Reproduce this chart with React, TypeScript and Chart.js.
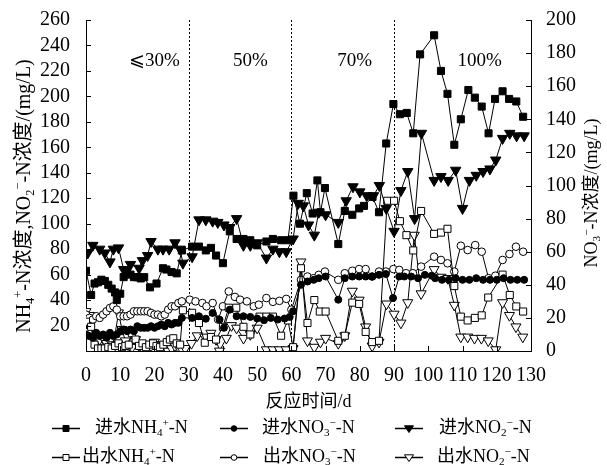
import React, { useEffect, useRef } from 'react';
import { Chart, registerables } from 'chart.js';

Chart.register(...registerables);

const FONT = "'Liberation Serif', 'Times New Roman', 'Noto Sans CJK SC', serif";

// ---------- axes / annotations ----------
const xTitle = '反应时间/d';
const leftTitle = 'NH₄⁺-N浓度,NO₂⁻-N浓度/(mg/L)';
const rightTitle = 'NO₃⁻-N浓度/(mg/L)';
const phaseDays = [30, 60, 90];
const phaseLabels = ['⩽30%', '50%', '70%', '100%'];
const phaseLabelDays = [20, 48, 78.5, 115];
const phaseLabelLevel = 228;

const seriesLabels = ['进水NH₄⁺-N', '进水NO₃⁻-N', '进水NO₂⁻-N', '出水NH₄⁺-N', '出水NO₃⁻-N', '出水NO₂⁻-N'];

// ---------- 进水 NH4+-N (left axis) ----------
const inNH4Days = [0, 1.5, 2.5, 3.5, 4.5, 5.5, 6.5, 7.5, 8.5, 9, 10, 11, 12, 13, 14, 15, 16, 17, 18.7, 20.6, 22.5, 23.5, 25, 26.5, 28,
  31, 33, 35, 36.5, 38, 40, 42, 44, 46, 48, 50, 52.7, 54.6, 57, 59,
  60.6, 62.5, 64.5, 66.2, 67.6, 68.5, 69.8, 73.7, 75.6, 77.8, 79.8, 81.2, 83.7, 85.6, 87.7, 89.8,
  91.7, 93.7, 95.6, 97.6, 101.7, 103.7, 105.6, 107.6, 109.5, 111.7, 113.6, 115.6, 117.6, 119.5, 121.7, 123.6, 125.7, 127.7];
const inNH4 = [63, 44, 53, 54, 56, 55, 52, 49, 46, 40, 45, 58, 62, 60, 58, 58, 57, 58, 50, 53, 65, 64, 62, 61, 79,
  82, 82, 79, 81, 75, 69, 94, 88, 88, 87, 83, 86, 88, 87, 87,
  122, 100, 124, 108, 134, 109, 128, 84, 110, 107, 112, 114, 121, 109, 163, 194,
  186, 187, 171, 233, 248, 220, 202, 162, 182, 205, 199, 192, 171, 198, 204, 198, 196, 184];

// ---------- 进水 NO3--N (right axis) ----------
const inNO3Days = [0, 1, 2, 3, 4, 5, 6, 7, 8, 9, 10, 11, 12, 13, 14, 15, 16, 17, 18, 19, 20, 21, 22, 23, 24, 25, 26, 27, 28,
  31, 33, 35, 37, 39, 40.3, 42, 44, 46, 48, 50, 52, 54, 56, 58, 59.5,
  60.5, 62.8, 64.7, 66.5, 68, 70, 73.7, 75.6, 77.8, 79.8, 81.7, 83.6, 85.6, 87.6, 89.7,
  91.5, 93, 95, 97, 99, 101, 102, 104, 106, 108, 110, 112, 114, 116, 118, 120, 122, 124, 126, 128];
const inNO3 = [10, 9, 8, 11, 9, 10, 8, 11, 9, 10, 12, 13, 12, 13, 12, 15, 14, 14, 14, 15, 14, 15, 16, 15, 17, 16, 17, 17, 20,
  20, 21, 19.5, 23, 19, 14, 25, 21, 21, 20.6, 19.6, 18.6, 20, 19, 19.6, 20.6,
  24, 40, 42, 43, 44, 45, 31, 44, 45, 45, 45, 45, 46, 46.5, 32,
  45, 45, 45, 44, 46, 45.5, 44, 43, 43, 44, 43, 43, 44, 43, 43, 43, 44, 43, 43, 43];

// ---------- 进水 NO2--N (left axis) ----------
const inNO2Days = [0.5, 2, 4, 5.5, 7, 8, 9.5, 11, 13, 15.5, 16.5, 18, 19, 21, 22.5, 24.3, 26, 27.5, 28.3,
  31, 33, 35, 37, 38.5, 40.3, 42, 44, 46, 48, 50, 52.7, 54.6, 56.5, 58.5,
  60.5, 62, 63.5, 65, 66.7, 68, 70, 73.7, 76, 78, 80, 82, 84, 85.7, 87.7, 90,
  92, 94, 96, 98, 101.7, 103.7, 105.8, 108, 110, 112, 114, 116, 118, 119.7, 121.7, 123.8, 125.8, 128];
const inNO2 = [77, 83, 80, 77, 70, 80, 81, 64, 68, 65, 71, 75, 86, 80, 80, 80, 85, 80, 69,
  74, 103, 103, 102, 101, 99, 97, 104, 83, 83, 85, 73, 80, 78, 78,
  88, 116, 114, 99, 91, 109, 107, 101, 118, 129, 125, 122, 122, 130, 112, 94,
  126, 141, 104, 171, 134, 137, 134, 142, 112, 134, 138, 141, 143, 150, 167, 171, 169, 169];

// ---------- 出水 NH4+-N (left axis) ----------
const outNH4Days = [0, 0.7, 1.5, 2.5, 3.5, 4.5, 5.5, 6.5, 7.5, 8.5, 9.5, 10.5, 11.5, 12.5, 13.4, 14.5, 15.5, 16.5, 17.5, 18.5, 19.6, 20.6, 21.6, 22.6, 23.6, 24.5, 25.5, 26.5, 27.5, 28.3,
  31, 33, 34.7, 36.5, 38, 40, 41.7, 43.9, 46, 48, 50.7, 52.7, 54.6, 57, 59,
  60.5, 62.8, 64.7, 66.7, 68.3, 70, 73.7, 75.6, 77.8, 79.8, 81.7, 83.6, 85.6, 88, 90,
  91.7, 93.6, 95.6, 97.9, 101.7, 103.7, 105.6, 107.6, 109.5, 111.5, 113.6, 115.6, 117.5, 121.7, 123.8, 125.7, 127.7];
const outNH4 = [23, 15, 19, 5, 2, 2, 2, 3, 2, 4, 6, 3, 4, 5, 14, 9, 4, 6, 3, 5, 6, 4, 3, 5, 7, 9, 10, 6, 5, 32,
  30, 22, 6.5, 11, 9, 19, 34, 34, 19, 13, 27, 27, 27, 12, 24,
  3, 65, 22, 40, 31, 31, 8, 12, 38, 37, 15, 7, 8, 118, 118,
  102, 91, 79, 110, 92, 93, 96, 51, 27, 24, 26, 28, 42, 60, 44, 35, 31];

// ---------- 出水 NO3--N (right axis) ----------
const outNO3Days = [0, 1, 2, 3, 4, 5, 6, 7, 8, 9, 10, 11, 12, 13, 14, 15, 16, 17, 18, 19, 20, 21, 22, 23, 24, 25, 26, 27, 28,
  30.3, 32, 34, 35.2, 37, 38.6, 40, 41.7, 43.5, 45, 47, 49, 50.5, 52.7, 54.6, 56.5, 58.5, 60,
  62.8, 64.7, 66.5, 68, 69.8, 73.7, 75.6, 77.8, 79.8, 81.7, 83.6, 85.6, 87.6, 89.8,
  91.5, 93.5, 95.5, 97.9, 101.7, 103.7, 105.6, 107.6, 109.5, 111.5, 113.7, 115.6, 117.6, 119.6, 121.7, 123.7, 125.6, 127.7];
const outNO3 = [22, 20, 19, 21, 20, 22, 24, 26, 27, 25, 21, 21, 21, 22, 24, 24, 24, 24, 24, 23, 22, 22, 21, 22, 25, 27, 27, 29, 30,
  31, 30, 29, 27, 29, 19, 27, 36, 32.7, 31, 30, 27, 28, 32, 29.7, 30.3, 31.5, 25,
  43, 45, 44, 46, 48, 43, 47, 48.5, 49.5, 49.5, 45, 48, 48, 49.5,
  49, 47, 47, 51, 57, 55, 53, 48, 63.6, 61, 64, 60, 44, 45.5, 55, 58.6, 63, 60];

// ---------- 出水 NO2--N (left axis) ----------
const outNO2Days = [0, 1, 2, 3, 4, 5, 6, 7, 8, 9.5, 10.5, 11.5, 12.5, 13.5, 14.5, 15.5, 16.5, 17.8, 19, 20, 21, 22, 23, 24, 25, 26, 27, 28, 29,
  30.8, 32.5, 34.7, 36.5, 38, 39, 41, 42.5, 44, 46, 48, 50, 52.7, 54.6, 56.5, 58.5, 60.5,
  62.8, 64.7, 66.7, 68.5, 70, 73.7, 75.6, 77.8, 79.8, 81.7, 83.6, 85.6, 87.8, 90,
  92, 94, 95.9, 97.9, 101.7, 103.7, 105.7, 107.6, 109.5, 111.5, 113.5, 115.5, 117.5, 119.7, 121.7, 123.7, 125.6, 127.6];
const outNO2 = [31, 28, 12, 5, 9, 10, 6, 8, 5, 30, 17, 8, 4, 3, 9, 4, 2, 0, 4, 7, 5, 3, 1, 0, 2, 4, 3, 1, 2,
  6, 12, 11, 14, 9, 0, 10, 20, 18, 10, 13, 18, 1, 1, 1, 1, 2,
  70, 8, 3, 7, 10, 6, 12, 47, 40, 19, 4, 7, 37, 29,
  22, 38, 91, 45, 64, 58, 57, 36, 11, 11, 10, 10, 8, 1, 38, 28, 19, 11];

// ---------- helpers ----------
const pts = (d: number[], v: number[]) => d.map((x, i) => ({ x, y: v[i] }));

type MarkStyle = 'rect' | 'circle' | 'triangle';
const marks: { style: MarkStyle; filled: boolean; r: number; axis: string }[] = [
  { style: 'rect', filled: true, r: 5, axis: 'yL' },
  { style: 'circle', filled: true, r: 3.5, axis: 'yR' },
  { style: 'triangle', filled: true, r: 6, axis: 'yL' },
  { style: 'rect', filled: false, r: 5, axis: 'yL' },
  { style: 'circle', filled: false, r: 3.8, axis: 'yR' },
  { style: 'triangle', filled: false, r: 5.8, axis: 'yL' },
];
const seriesData = [pts(inNH4Days, inNH4), pts(inNO3Days, inNO3), pts(inNO2Days, inNO2), pts(outNH4Days, outNH4), pts(outNO3Days, outNO3), pts(outNO2Days, outNO2)];

const SUBS: Record<string, string> = { '₀': '0', '₁': '1', '₂': '2', '₃': '3', '₄': '4', '₅': '5' };
const SUPS: Record<string, string> = { '⁺': '+', '⁻': '−' };

type Seg = { t: string; k: 'n' | 'sub' | 'sup' };
function segments(text: string): Seg[] {
  const out: Seg[] = [];
  for (const ch of Array.from(text)) {
    const k: Seg['k'] = SUBS[ch] ? 'sub' : SUPS[ch] ? 'sup' : 'n';
    const t = SUBS[ch] || SUPS[ch] || ch;
    const last = out[out.length - 1];
    if (last && last.k === k) last.t += t; else out.push({ t, k });
  }
  return out;
}
function richWidth(ctx: CanvasRenderingContext2D, text: string, size: number) {
  let w = 0;
  for (const s of segments(text)) {
    ctx.font = `${s.k === 'n' ? size : size * 0.62}px ${FONT}`;
    w += ctx.measureText(s.t).width;
  }
  return w;
}
function drawRich(ctx: CanvasRenderingContext2D, text: string, x: number, y: number, size: number, align: 'left' | 'center') {
  let cx = align === 'center' ? x - richWidth(ctx, text, size) / 2 : x;
  ctx.textAlign = 'left';
  ctx.textBaseline = 'middle';
  for (const s of segments(text)) {
    const sz = s.k === 'n' ? size : size * 0.62;
    ctx.font = `${sz}px ${FONT}`;
    const dy = s.k === 'sub' ? size * 0.28 : s.k === 'sup' ? -size * 0.3 : 0;
    ctx.fillText(s.t, cx, y + dy);
    cx += ctx.measureText(s.t).width;
  }
}
function drawMark(ctx: CanvasRenderingContext2D, style: MarkStyle, filled: boolean, x: number, y: number, r: number) {
  ctx.beginPath();
  if (style === 'rect') {
    ctx.rect(x - r, y - r, 2 * r, 2 * r);
  } else if (style === 'circle') {
    ctx.arc(x, y, r, 0, Math.PI * 2);
  } else {
    ctx.moveTo(x - r, y - r * 0.6);
    ctx.lineTo(x + r, y - r * 0.6);
    ctx.lineTo(x, y + r * 0.9);
    ctx.closePath();
  }
  ctx.fillStyle = filled ? '#000' : '#fff';
  ctx.fill();
  ctx.lineWidth = 1;
  ctx.strokeStyle = '#000';
  ctx.stroke();
}

const LEG_Y = [428, 457];
const LEG_MARK_X = [52, 220, 395];
const LEG_MARK_W = 28;
const LEG_TEXT_X = [[95, 262, 439], [82, 263, 437]];

const decorPlugin = {
  id: 'decor',
  beforeDatasetsDraw(chart: any) {
    const { ctx, chartArea: a, scales } = chart;
    const xs = scales.x;
    const yl = scales.yL;
    ctx.save();
    ctx.strokeStyle = '#000';
    ctx.lineWidth = 1;
    ctx.setLineDash([2, 2]);
    phaseDays.forEach((d) => {
      const px = Math.round(xs.getPixelForValue(d)) + 0.5;
      ctx.beginPath();
      ctx.moveTo(px, a.top);
      ctx.lineTo(px, a.bottom);
      ctx.stroke();
    });
    ctx.setLineDash([]);
    ctx.fillStyle = '#000';
    ctx.font = `19px ${FONT}`;
    ctx.textAlign = 'center';
    ctx.textBaseline = 'middle';
    phaseLabels.forEach((t, i) => {
      ctx.fillText(t, xs.getPixelForValue(phaseLabelDays[i]), yl.getPixelForValue(phaseLabelLevel));
    });
    ctx.restore();
  },
  afterDraw(chart: any) {
    const { ctx, chartArea: a, scales } = chart;
    ctx.save();
    ctx.strokeStyle = '#000';
    ctx.lineWidth = 1;
    const TL = 5;
    // inward tick marks
    scales.x.ticks.forEach((t: any) => {
      const px = Math.round(scales.x.getPixelForValue(t.value)) + 0.5;
      ctx.beginPath(); ctx.moveTo(px, a.bottom); ctx.lineTo(px, a.bottom - TL); ctx.stroke();
    });
    scales.yL.ticks.forEach((t: any) => {
      const py = Math.round(scales.yL.getPixelForValue(t.value)) + 0.5;
      ctx.beginPath(); ctx.moveTo(a.left, py); ctx.lineTo(a.left + TL, py); ctx.stroke();
    });
    scales.yR.ticks.forEach((t: any) => {
      const py = Math.round(scales.yR.getPixelForValue(t.value)) + 0.5;
      ctx.beginPath(); ctx.moveTo(a.right, py); ctx.lineTo(a.right - TL, py); ctx.stroke();
    });
    // y-axis titles
    ctx.fillStyle = '#000';
    ctx.save();
    ctx.translate(25, 196);
    ctx.rotate(-Math.PI / 2);
    drawRich(ctx, leftTitle, 0, 0, 20, 'center');
    ctx.restore();
    ctx.save();
    ctx.translate(592, 193);
    ctx.rotate(-Math.PI / 2);
    drawRich(ctx, rightTitle, 0, 0, 18, 'center');
    ctx.restore();
    // legend
    seriesLabels.forEach((lab, i) => {
      const row = Math.floor(i / 3);
      const col = i % 3;
      const y = LEG_Y[row];
      const x0 = LEG_MARK_X[col];
      ctx.beginPath();
      ctx.lineWidth = 1.5;
      ctx.strokeStyle = '#000';
      ctx.moveTo(x0, y + 0.5);
      ctx.lineTo(x0 + LEG_MARK_W, y + 0.5);
      ctx.stroke();
      const m = marks[i];
      const lr = m.style === 'triangle' ? 4.5 : m.style === 'rect' ? 3 : 2.8;
      drawMark(ctx, m.style, m.filled, x0 + LEG_MARK_W / 2, y + 0.5, lr);
      ctx.fillStyle = '#000';
      drawRich(ctx, lab, LEG_TEXT_X[row][col], y, 18, 'left');
    });
    ctx.restore();
  },
};

export default function App() {
  const ref = useRef<HTMLCanvasElement | null>(null);
  useEffect(() => {
    if (!ref.current) return;
    const tickFont = { family: FONT, size: 20 };
    const chart = new Chart(ref.current, {
      type: 'line',
      data: {
        datasets: seriesLabels.map((label, i) => ({
          label,
          data: seriesData[i],
          yAxisID: marks[i].axis,
          borderColor: '#000',
          borderWidth: 1,
          backgroundColor: marks[i].filled ? '#000' : '#fff',
          pointStyle: marks[i].style,
          pointRadius: marks[i].r,
          pointRotation: marks[i].style === 'triangle' ? 180 : 0,
          pointBorderColor: '#000',
          pointBackgroundColor: marks[i].filled ? '#000' : '#fff',
          pointBorderWidth: 1,
          tension: 0,
          fill: false,
        })),
      },
      options: {
        animation: false,
        responsive: true,
        maintainAspectRatio: false,
        layout: { padding: { top: 20, left: 0, right: 0, bottom: 0 } },
        plugins: { legend: { display: false }, tooltip: { enabled: false } },
        scales: {
          x: {
            type: 'linear',
            position: 'bottom',
            min: 0,
            max: 130,
            ticks: { stepSize: 10, color: '#000', font: tickFont, padding: 5, maxRotation: 0, autoSkip: false },
            grid: { display: false },
            border: { display: true, color: '#000', width: 1 },
            title: { display: true, text: xTitle, color: '#000', font: { family: FONT, size: 18 }, padding: { top: 0, bottom: 52 } },
            afterFit: (s: any) => { s.height = 114; },
          },
          yL: {
            type: 'linear',
            position: 'left',
            min: 0,
            max: 260,
            ticks: { stepSize: 20, autoSkip: false, color: '#000', font: tickFont, padding: 8, callback: (v: any) => (v === 0 ? '' : String(v)) },
            grid: { display: false },
            border: { display: true, color: '#000', width: 1 },
            afterFit: (s: any) => { s.width = 86; },
          },
          yR: {
            type: 'linear',
            position: 'right',
            min: 0,
            max: 200,
            ticks: { stepSize: 20, autoSkip: false, color: '#000', font: tickFont, padding: 7 },
            grid: { display: false },
            border: { display: true, color: '#000', width: 1 },
            afterFit: (s: any) => { s.width = 76; },
          },
        },
      },
      plugins: [decorPlugin],
    } as any);
    return () => chart.destroy();
  }, []);
  return (
    <div style={{ position: 'absolute', left: 0, top: 0, width: 607, height: 465, background: '#fff' }}>
      <canvas ref={ref} />
    </div>
  );
}
